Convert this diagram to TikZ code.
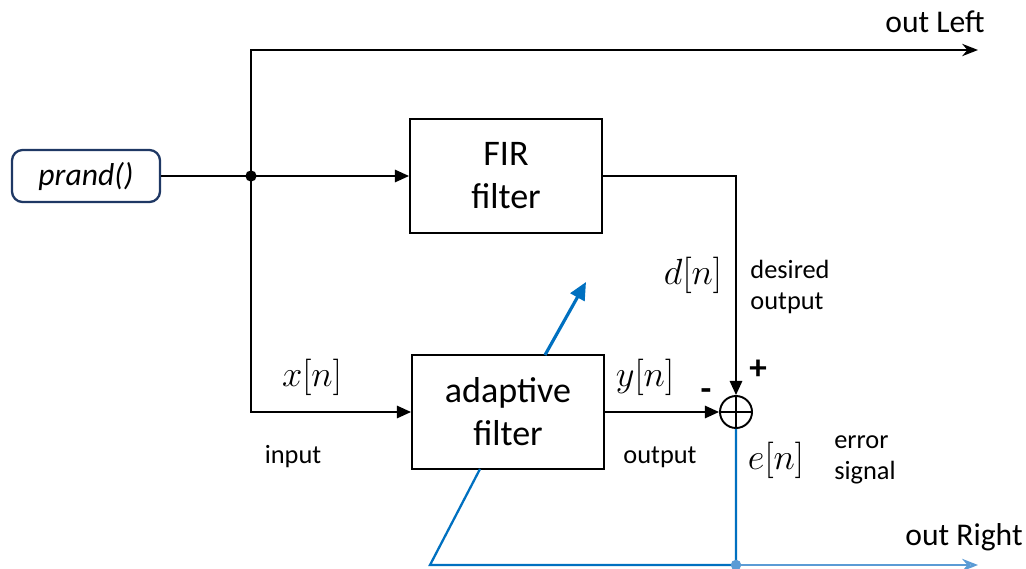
\documentclass[tikz,border=0pt]{standalone}
\usepackage{fontspec}
\setmainfont{Carlito}
\usetikzlibrary{arrows.meta, positioning}
\definecolor{navy}{HTML}{1F3864}
\definecolor{errblue}{HTML}{0070C0}
\definecolor{outblue}{HTML}{5B9BD5}

\begin{document}
\begin{tikzpicture}[sig/.style={-{Triangle[length=8pt, width=7pt]}, line width=1.1pt}, block/.style={draw, line width=1.1pt, minimum width=3.84cm, minimum height=2.28cm, align=center, font=\fontsize{20.5}{24.5}\selectfont}, src/.style={draw=navy, line width=1.3pt, rounded corners=6pt, minimum width=2.96cm, minimum height=1.04cm, font=\fontsize{18}{22}\selectfont\itshape}, sumnode/.style={draw, circle, line width=1.1pt, minimum size=0.64cm, inner sep=0pt}, outlabel/.style={font=\fontsize{18}{22}\selectfont}, note/.style={font=\fontsize{15}{17.5}\selectfont, align=left}, math/.style={font=\fontsize{20.5}{24}\selectfont}, sign/.style={font=\fontsize{20}{22}\selectfont\bfseries}]

\useasboundingbox (0,0) rectangle (20.52,11.36);

\node[src] (prand) at (1.72,7.84) {prand()};
\node[block] (fir) at (10.12,7.84) {FIR\\filter};
\node[block] (adapt) at (10.16,3.12) {adaptive\\filter};
\node[sumnode] (sum) at (14.72,3.12) {};
\draw[line width=1.1pt] (sum.north) -- (sum.south) (sum.west) -- (sum.east);

\coordinate (J) at (5.02,7.84); \coordinate (T) at (5.02,10.36); \coordinate (B) at (5.02,3.12);
\coordinate (C) at (14.72,7.84); \coordinate (outL) at (19.56,10.36);
\coordinate (D) at (14.72,0.06); \coordinate (L) at (8.6,0.06); \coordinate (outR) at (19.56,0.06);
\coordinate (ab) at (9.6,1.98); \coordinate (at) at (10.9,4.26); \coordinate (tip) at (11.72,5.72);

\draw[line width=1.1pt] (prand) -- (J);
\fill (J) circle (3.2pt);
\draw[sig] (J) -- (fir);
\draw[line width=1.1pt, -{Stealth[length=9pt, width=7pt]}] (B) -- (T) -- (outL);
\draw[sig] (J) -- (B) -- (adapt);
\draw[sig] (fir) -- (C) -- (sum);
\draw[sig] (adapt) -- (sum);
\draw[errblue, line width=1.3pt] (sum) -- (D) -- (L) -- (ab);
\draw[errblue, line width=1.8pt, -{Triangle[length=10pt, width=9pt]}] (at) -- (tip);
\draw[outblue, line width=1.3pt, -{Stealth[length=9pt, width=7pt, open]}] (D) -- (outR);
\fill[outblue] (D) circle (3pt);

\node[outlabel] (lLeft) at (18.7,10.92) {out Left};
\node[outlabel] (lRight) at (19.28,0.62) {out Right};
\node[math] (dn) at (13.86,5.86) {$d[n]$};
\node[note] (des) at (15.8,5.62) {desired\\output};
\node[math] (xn) at (6.24,3.82) {$x[n]$};
\node[note] (inp) at (5.86,2.22) {input};
\node[math] (yn) at (12.9,3.82) {$y[n]$};
\node[note] (outp) at (13.2,2.22) {output};
\node[sign] (plus) at (15.16,3.96) {+};
\node[sign] (minus) at (14.12,3.46) {-};
\node[math] (en) at (15.52,2.16) {$e[n]$};
\node[note] (err) at (17.3,2.16) {error\\signal};
\end{tikzpicture}
\end{document}
